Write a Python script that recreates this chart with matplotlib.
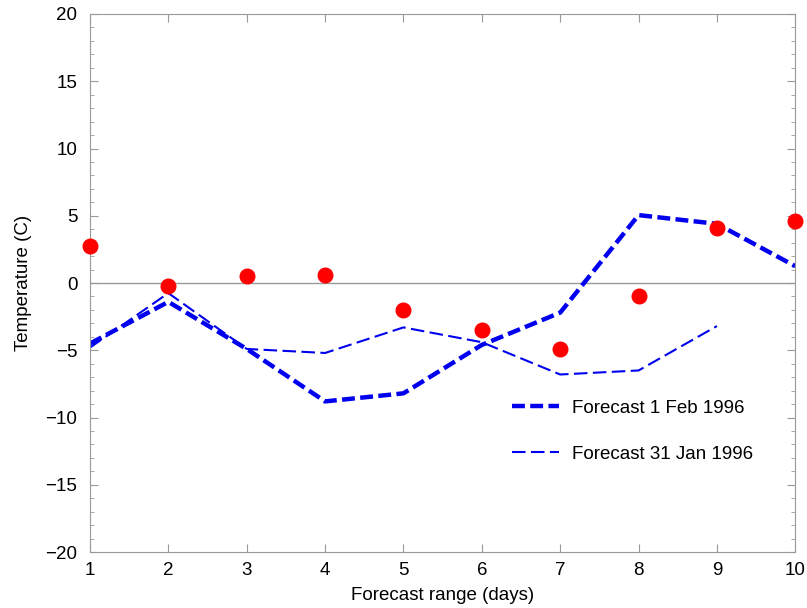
import matplotlib.pyplot as plt
from matplotlib.ticker import MultipleLocator

days = [1, 2, 3, 4, 5, 6, 7, 8, 9, 10]
observed = [2.75, -0.2, 0.5, 0.6, -2.0, -3.5, -4.9, -1.0, 4.1, 4.6]
fc_1feb = [-4.5, -1.4, -4.9, -8.8, -8.2, -4.6, -2.2, 5.05, 4.4, 1.25]
days_31jan = [1, 2, 3, 4, 5, 6, 7, 8, 9]
fc_31jan = [-4.8, -0.75, -4.9, -5.2, -3.3, -4.4, -6.8, -6.5, -3.2]

plt.rcParams['font.family'] = ['Liberation Sans', 'DejaVu Sans']

fig = plt.figure(figsize=(8.07, 6.08), dpi=100)
ax = fig.add_axes([0.1115, 0.092, 0.874, 0.885])

ax.axhline(0, color='#999999', lw=1, zorder=1)
l1, = ax.plot(days, fc_1feb, color='#0000ee', lw=3.2, dashes=(2.9, 1.2),
              label='Forecast 1 Feb 1996', zorder=2)
l2, = ax.plot(days_31jan, fc_31jan, color='#0000ee', lw=1.5, dashes=(6.5, 2.6),
              label='Forecast 31 Jan 1996', zorder=2)
ax.plot(days, observed, 'o', color='red', ms=10.5, mec='red',
        clip_on=False, zorder=3)

ax.set_xlim(1, 10)
ax.set_ylim(-20, 20)
ax.xaxis.set_major_locator(MultipleLocator(1))
ax.yaxis.set_major_locator(MultipleLocator(5))
ax.yaxis.set_minor_locator(MultipleLocator(1))
ax.tick_params(which='both', direction='in', top=True, right=True,
               color='#999999', labelsize=13.5)
ax.tick_params(which='major', length=6)
ax.tick_params(which='minor', length=3)
ax.tick_params(axis='y', pad=9)
ax.tick_params(axis='x', pad=7)
ax.set_yticklabels([f'{int(v)}'.replace('-', '\u2212') for v in ax.get_yticks()])
for s in ax.spines.values():
    s.set_color('#999999')

ax.set_xlabel('Forecast range (days)', fontsize=13.5, labelpad=6)
ax.set_ylabel('Temperature (C)', fontsize=13.5, labelpad=10)

ax.legend(handles=[l1, l2], loc='upper left', bbox_to_anchor=(0.574, 0.315),
          frameon=False, fontsize=13.5, handlelength=2.5, labelspacing=1.55,
          handletextpad=0.7)

fig.savefig('out.png', dpi=100)
